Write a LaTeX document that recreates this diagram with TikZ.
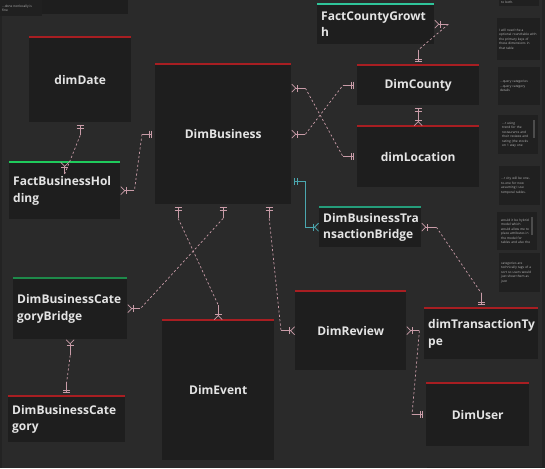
\documentclass[tikz,border=0pt]{standalone}
\usepackage{fontspec}
\setmainfont{Open Sans}
\usetikzlibrary{arrows.meta}
\definecolor{bgc}{HTML}{2A2A2A}
\definecolor{boxc}{HTML}{1E1E1E}
\definecolor{notec}{HTML}{202020}
\definecolor{stripc}{HTML}{232323}
\definecolor{redtop}{HTML}{A81E22}
\definecolor{greentop}{HTML}{1FCB5C}
\definecolor{tealtop}{HTML}{2FC49A}
\definecolor{darkgreen}{HTML}{1E8A4A}
\definecolor{relc}{HTML}{C99CA8}
\definecolor{relteal}{HTML}{4BA7AF}
\definecolor{txt}{HTML}{E4E4E4}
\definecolor{notetxt}{HTML}{B8B8B8}
\tikzset{
  ent/.style={fill=boxc, inner sep=4pt, anchor=north west, text=txt,
    font=\bfseries\fontsize{12}{16.5}\selectfont},
  notebox/.style={fill=notec, inner sep=2pt, anchor=north west, text=notetxt,
    align=left, font=\fontsize{3.2}{4.5}\selectfont},
  topline/.style={line width=1.4pt},
  rl/.style={draw=relc, line width=0.7pt},
  rd/.style={rl, dash pattern=on 2.2pt off 2.2pt},
  tl/.style={draw=relteal, line width=0.8pt},
  Mone/.tip={Bar[width=7pt,sep=2pt]Bar[width=7pt,sep=3pt]},
  Mmany/.tip={Bar[width=7pt,sep=0.5pt]Straight Barb[reversed,length=4pt,width=8pt]},
}
\begin{document}
\begin{tikzpicture}[x=1pt,y=-1pt]
\useasboundingbox (0,0) rectangle (545,468);
\fill[bgc] (0,0) rectangle (545,468);
\fill[stripc] (0,0) rectangle (2,468);
\fill[stripc] (542,0) rectangle (545,468);
\fill[boxc] (42,0) rectangle (128,14);
\fill[stripc] (427,466.5) rectangle (542,468);

% notes
\node[notebox, minimum width=42, minimum height=16, text width=38] (n0) at (0,0) {...done nonlocally is\\fine};
\node[notebox, minimum width=40, minimum height=10, text width=36] (n1) at (499,-4) {\\to both.};
\node[notebox, minimum width=43, minimum height=42, text width=39] (n2) at (497,18) {I will need the a\\optional roundtable with\\the primary keys of\\these dimensions in\\that table};
\node[notebox, minimum width=42, minimum height=38, text width=38] (n3) at (498,67) {...query categories\\...query category\\details};
\node[notebox, minimum width=40, minimum height=39, text width=32] (n4) at (498,115) {...r using\\trend for the\\restaurants and\\their reviews and\\rating (the stocks\\on 1 way one};
\node[notebox, minimum width=41, minimum height=39, text width=37] (n5) at (499,166) {...r city will be one-\\to-one for now\\assuming I use\\temporal tables.};
\node[notebox, minimum width=40, minimum height=38, text width=32] (n6) at (497,212) {would it be hybrid\\model which\\would allow me to\\place attributes in\\the model for\\tables and also the};
\node[notebox, minimum width=41, minimum height=39, text width=37] (n7) at (499,253) {categories are\\technically tags of a\\sort so users would\\just show them as\\json};
\fill[gray!60!black] (533,120) rectangle (535,138);
\fill[gray!60!black] (531,217) rectangle (533,235);

% entities
\node[ent, minimum width=102, minimum height=85, text width=94, align=center] (dimDate) at (29,37) {dimDate};
\node[ent, minimum width=136, minimum height=140, text width=128, align=center] (DimBusiness) at (155,64) {DimBusiness};
\node[ent, minimum width=111, minimum height=57, text width=103, align=left] (FBH) at (9,162) {FactBusinessHol\\ding};
\node[ent, minimum width=117, minimum height=40, text width=109, align=left] (FCG) at (317,4) {FactCountyGrowt\\h};
\node[ent, minimum width=122, minimum height=40, text width=114, align=center] (DimCounty) at (357,65) {DimCounty};
\node[ent, minimum width=122, minimum height=61, text width=114, align=center] (dimLocation) at (357,126) {dimLocation};
\node[ent, minimum width=102, minimum height=40, text width=94, align=left] (DBTB) at (319,207) {DimBusinessTra\\nsactionBridge};
\node[ent, minimum width=114, minimum height=61, text width=106, align=left] (DBCB) at (13,278) {DimBusinessCate\\goryBridge};
\node[ent, minimum width=117, minimum height=46, text width=109, align=left] (DBC) at (8,396) {DimBusinessCate\\gory};
\node[ent, minimum width=112, minimum height=140, text width=104, align=center] (DimEvent) at (162,320) {DimEvent};
\node[ent, minimum width=111, minimum height=79, text width=103, align=center] (DimReview) at (295,291) {DimReview};
\node[ent, minimum width=114, minimum height=51, text width=106, align=left] (dTT) at (424,308) {dimTransactionTy\\pe};
\node[ent, minimum width=103, minimum height=63, text width=95, align=center] (DimUser) at (426,383) {DimUser};

% top lines
\foreach \n in {dimDate,DimBusiness,DimCounty,dimLocation,DBC,DimEvent,DimReview,dTT,DimUser}
  \draw[topline, redtop] (\n.north west) -- (\n.north east);
\draw[topline, greentop] (FBH.north west) -- (FBH.north east);
\draw[topline, tealtop] (FCG.north west) -- (FCG.north east);
\draw[topline, tealtop!80!black] (DBTB.north west) -- (DBTB.north east);
\draw[topline, darkgreen] (DBCB.north west) -- (DBCB.north east);

% connectors
% dimDate -> FBH
\draw[rl, {Mone}-] (dimDate.south) -- ++(0,13) coordinate (c1a);
\draw[rd] (c1a) -- ([yshift=-12pt]FBH.north) coordinate (c1b);
\draw[rl, -{Mmany}] (c1b) -- (FBH.north);
% DimBusiness -> FBH
\draw[rl, {Mone}-] (DimBusiness.west) -- ++(-13,0) coordinate (c2a);
\draw[rd] (c2a) -- ([xshift=14pt]FBH.east) coordinate (c2b);
\draw[rl, -{Mmany}] (c2b) -- (FBH.east);
% DimBusiness -> dimLocation
\draw[rl, {Mmany}-] ([yshift=46pt]DimBusiness.east) -- ++(14,0) coordinate (c3a);
\draw[rd] (c3a) -- ([xshift=-14pt]dimLocation.west) coordinate (c3b);
\draw[rl, -{Mone}] (c3b) -- (dimLocation.west);
% DimBusiness -> DimCounty
\draw[rl, {Mmany}-] (DimBusiness.east) -- ++(14,0) coordinate (c4a);
\draw[rd] (c4a) -- ([xshift=-14pt]DimCounty.west) coordinate (c4b);
\draw[rl, -{Mone}] (c4b) -- (DimCounty.west);
% DimBusiness -> DBTB (teal)
\draw[tl, {Mone}-{Mmany}] ([yshift=-47pt]DimBusiness.east) -- ++(14,0) |- (DBTB.west);
% FCG -> DimCounty
\draw[rl, {Mmany}-] (FCG.east) -- ++(14,0) coordinate (c6a);
\draw[rd] (c6a) -- ([yshift=15pt]DimCounty.north) coordinate (c6b);
\draw[rl, -{Mone}] (c6b) -- (DimCounty.north);
% DimCounty -> dimLocation
\draw[rl, {Mone}-{Mmany}] (DimCounty.south) -- (dimLocation.north);
% DimBusiness -> DimEvent
\draw[rl, {Mone}-] ([xshift=-45pt]DimBusiness.south) -- ++(0,14) coordinate (c8a);
\draw[rd] (c8a) -- ([yshift=15pt]DimEvent.north) coordinate (c8b);
\draw[rl, -{Mmany}] (c8b) -- (DimEvent.north);
% DimBusiness -> DBCB
\draw[rl, {Mone}-] (DimBusiness.south) -- ++(0,14) coordinate (c9a);
\draw[rd] (c9a) -- ([xshift=13pt]DBCB.east) coordinate (c9b);
\draw[rl, -{Mmany}] (c9b) -- (DBCB.east);
% DimBusiness -> DimReview
\draw[rl, {Mone}-] ([xshift=46pt]DimBusiness.south) -- ++(0,14) coordinate (c10a);
\draw[rd] (c10a) -- ([xshift=-14pt]DimReview.west) coordinate (c10b);
\draw[rl, -{Mmany}] (c10b) -- (DimReview.west);
% DBCB -> DBC
\draw[rl, {Mmany}-] (DBCB.south) -- ++(0,16) coordinate (c11a);
\draw[rd] (c11a) -- ([yshift=14pt]DBC.north) coordinate (c11b);
\draw[rl, -{Mone}] (c11b) -- (DBC.north);
% DBTB -> dTT
\draw[rl, {Mmany}-] (DBTB.east) -- ++(15,0) coordinate (c12a);
\draw[rd] (c12a) -- ([yshift=15pt]dTT.north) coordinate (c12b);
\draw[rl, -{Mone}] (c12b) -- (dTT.north);
% DimReview -> DimUser
\draw[rl, {Mmany}-] (DimReview.east) -- ++(13,0) coordinate (c13a);
\draw[rd] (c13a) -- ([xshift=-14pt]DimUser.west) coordinate (c13b);
\draw[rl, -{Mone}] (c13b) -- (DimUser.west);
\end{tikzpicture}
\end{document}
